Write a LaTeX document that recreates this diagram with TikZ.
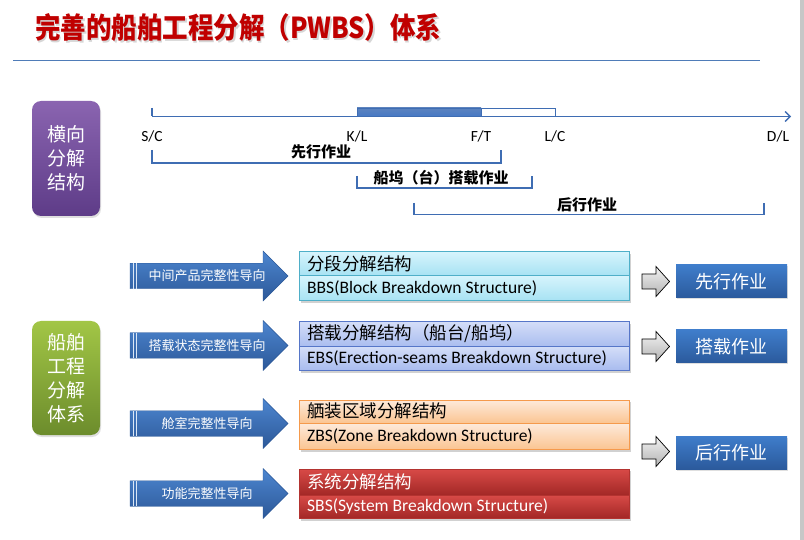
\documentclass[tikz,border=0pt]{standalone}
\usepackage{fontspec}
\setmainfont{Carlito}
\newfontfamily\cjk{Noto Sans CJK SC}
\usetikzlibrary{shadows,arrows.meta}
\definecolor{titlered}{HTML}{C00000}
\definecolor{hl}{HTML}{4F7CB8}
\definecolor{tl}{HTML}{3F6DB3}
\definecolor{purT}{HTML}{8A64B0}
\definecolor{purB}{HTML}{5E3C88}
\definecolor{grnT}{HTML}{A2C646}
\definecolor{grnB}{HTML}{6C8C2C}
\definecolor{arrT}{HTML}{4D86D0}
\definecolor{arrB}{HTML}{2C5898}
\definecolor{cyT}{HTML}{D6F4FC}
\definecolor{cyB}{HTML}{A6E2F3}
\definecolor{cyD}{HTML}{4FAFC8}
\definecolor{lvT}{HTML}{D3DDF8}
\definecolor{lvB}{HTML}{A9BCEF}
\definecolor{lvD}{HTML}{5676C8}
\definecolor{orT}{HTML}{FDEADB}
\definecolor{orB}{HTML}{FBC592}
\definecolor{orD}{HTML}{F59A4C}
\definecolor{rdT}{HTML}{D84A47}
\definecolor{rdB}{HTML}{A32826}
\definecolor{rdD}{HTML}{B33330}
\definecolor{resT}{HTML}{3F7DCB}
\definecolor{resB}{HTML}{2B5A9C}
\begin{document}
\begin{tikzpicture}[x=1pt,y=-1pt,
  sidebox/.style={rounded corners=9pt, align=center, text=white, inner sep=0pt,
    font=\cjk\fontsize{19}{24}\selectfont,
    drop shadow={opacity=0.25, shadow xshift=1pt, shadow yshift=-2pt}},
  tline/.style={draw=tl, line width=1.3pt},
  ticklab/.style={font=\fontsize{15.5}{17}\selectfont, inner sep=0pt},
  brlab/.style={font=\cjk\fontsize{15}{17}\selectfont\bfseries, inner sep=0pt},
  arrtext/.style={font=\cjk\fontsize{13}{15}\selectfont, text=white, inner sep=0pt},
  cntext/.style={anchor=west, font=\cjk\fontsize{17.5}{19}\selectfont, inner sep=0pt},
  entext/.style={anchor=west, font=\fontsize{17.5}{19}\selectfont, inner sep=0pt},
  resbox/.style={minimum width=111pt, minimum height=33pt, inner sep=0pt,
    top color=resT, bottom color=resB, text=white,
    font=\cjk\fontsize{18}{20}\selectfont,
    drop shadow={opacity=0.25, shadow xshift=1pt, shadow yshift=-1.5pt}}
]
\useasboundingbox (0,0) rectangle (804,540);
\fill[white] (0,0) rectangle (804,540);
\fill[black!22] (800,0) rectangle (804,540);

% title
\node (titleshadow) [anchor=west, inner sep=0pt, text=black!35, opacity=0.45] at (36.5,29.5)
  {\resizebox{406pt}{25pt}{\cjk\bfseries 完善的船舶工程分解（PWBS）体系}};
\node (title) [anchor=west, inner sep=0pt, text=titlered] at (35,28)
  {\resizebox{406pt}{25pt}{\cjk\bfseries 完善的船舶工程分解（PWBS）体系}};
\coordinate (hlA) at (13,61);
\coordinate (hlB) at (760,61);
\draw[hl, line width=1pt] (hlA) -- (hlB);

% side boxes
\node (hbox) [sidebox, top color=purT, bottom color=purB, minimum width=68pt, minimum height=115pt]
  at (66,158.5) {横向\\分解\\结构};
\node (pbox) [sidebox, top color=grnT, bottom color=grnB, minimum width=68pt, minimum height=114pt]
  at (66,378) {船舶\\工程\\分解\\体系};

% timeline
\coordinate (tsc) at (152,116.5);
\coordinate (tscTop) at (152,108);
\coordinate (tend) at (791,116.5);
\draw[tline] (tscTop) -- (tsc);
\draw[tline, -{Straight Barb[length=5pt,width=10pt]}] (tsc) -- (tend);
\shade[top color=tl!85, bottom color=tl!110!black, draw=tl] (357,108) rectangle (481,116.5);
\draw[draw=tl, line width=1pt, fill=white] (481,108.5) rectangle (555,116.5);

\node (lsc) [ticklab] at (152,136) {S/C};
\node (lkl) [ticklab] at (357,136) {K/L};
\node (lft) [ticklab] at (481,136) {F/T};
\node (llc) [ticklab] at (555,136) {L/C};
\node (ldl) [ticklab] at (778,136) {D/L};

\draw[tline] (152,150) -- (152,163) -- (501,163) -- (501,150);
\node (b1) [brlab] at (321,152) {先行作业};
\draw[tline] (357,176) -- (357,188) -- (532,188) -- (532,176);
\node (b2) [brlab] at (441,178) {船坞（台）搭载作业};
\draw[tline] (414,203) -- (414,214.5) -- (764,214.5) -- (764,203);
\node (b3) [brlab] at (587,205) {后行作业};

% blue arrows
\foreach \cy/\txt/\nm in {276/中间产品完整性导向/a1, 345.5/搭载状态完整性导向/a2, 423.5/舱室完整性导向/a3, 493.5/功能完整性导向/a4}{
  \shade[top color=arrT, bottom color=arrB, draw=arrB, line width=0.4pt]
    (130,\cy-12.75) -- (263,\cy-12.75) -- (263,\cy-25) -- (288,\cy) -- (263,\cy+25)
    -- (263,\cy+12.75) -- (130,\cy+12.75) -- cycle;
  \draw[white!80!arrT, line width=0.7pt] (133,\cy-12.75) -- (133,\cy+12.75);
  \draw[white!80!arrT, line width=0.7pt] (136,\cy-12.75) -- (136,\cy+12.75);
  \node (\nm) [arrtext] at (207,\cy) {\txt};
}

% structure boxes
\foreach \t/\d/\b/\ct/\cb/\cd/\tc/\ttl/\sub/\nm in {
  252/276/301/cyT/cyB/cyD/black/分段分解结构/BBS(Block Breakdown Structure)/s1,
  322/347/370/lvT/lvB/lvD/black/搭载分解结构（船台{/}船坞）/EBS(Erection-seams Breakdown Structure)/s2,
  400/423/449/orT/orB/orD/black/舾装区域分解结构/ZBS(Zone Breakdown Structure)/s3,
  469/495/518/rdT/rdB/rdD/white/系统分解结构/SBS(System Breakdown Structure)/s4}{
  \fill[black, opacity=0.18] (301,\t+2) rectangle (631,\b+2.5);
  \shade[top color=\ct, bottom color=\cb] (299,\t) rectangle (629,\d);
  \shade[top color=\ct, bottom color=\cb] (299,\d) rectangle (629,\b);
  \draw[\cd, line width=1pt] (299,\t) rectangle (629,\b);
  \draw[\cd, line width=1pt] (299,\d) -- (629,\d);
  \node (\nm t) [cntext, text=\tc] at (307,{(\t+\d)/2-0.5}) {\ttl};
  \node (\nm s) [entext, text=\tc] at (307,{(\d+\b)/2}) {\sub};
}

% gray arrows
\foreach \cy/\nm in {281.5/g1, 346.5/g2, 451.5/g3}{
  \shade[top color=black!5, bottom color=black!30, draw=black, line width=0.7pt]
    (642,\cy-7.5) -- (656,\cy-7.5) -- (656,\cy-15) -- (669.5,\cy) -- (656,\cy+15)
    -- (656,\cy+7.5) -- (642,\cy+7.5) -- cycle;
  \coordinate (\nm) at (669.5,\cy);
}

% result boxes
\node (r1) [resbox] at (731.5,281.5) {先行作业};
\node (r2) [resbox] at (731.5,346.5) {搭载作业};
\node (r3) [resbox] at (731.5,452.5) {后行作业};
\end{tikzpicture}
\end{document}
